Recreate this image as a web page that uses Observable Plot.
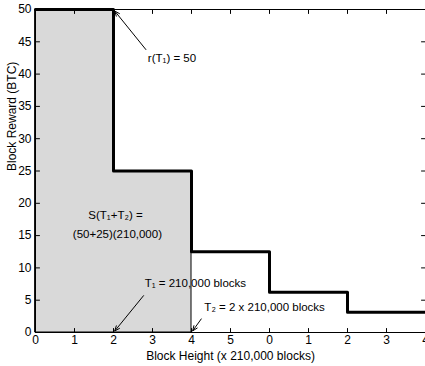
<!DOCTYPE html>
<html><head><meta charset="utf-8">
<script src="https://cdn.jsdelivr.net/npm/d3@7"></script>
<script src="https://cdn.jsdelivr.net/npm/@observablehq/plot@0.6"></script>
<style>body{margin:0;background:#fff}</style>
</head><body><div id="chart"></div>
<script>
// ---- data ----
const epochStart = [0, 2, 4, 6, 8];
const reward = [50, 25, 12.5, 6.25, 3.125];
const xEnd = 10;
const shadedEpochs = 2;
const xTickValues = [0, 1, 2, 3, 4, 5, 6, 7, 8, 9, 10];
const xTickLabels = ["0", "1", "2", "3", "4", "5", "0", "1", "2", "3", "4"];
const yTickValues = [0, 5, 10, 15, 20, 25, 30, 35, 40, 45, 50];
const xTitle = "Block Height (x 210,000 blocks)";
const yTitle = "Block Reward (BTC)";

// annotations (text, anchor position in data units, arrow target)
const notes = [
  {text: "r(T\u2081) = 50", x: 2.88, y: 42.4, ax: 2.83, ay: 43.8, tx: epochStart[1], ty: reward[0]},
  {text: "T\u2081 = 210,000 blocks", x: 2.8, y: 7.6, ax: 2.77, ay: 5.7, tx: epochStart[1], ty: 0},
  {text: "T\u2082 = 2 x 210,000 blocks", x: 4.33, y: 3.9, ax: 4.25, ay: 2.1, tx: epochStart[2], ty: 0}
];
const sumLabel = [
  {text: "S(T\u2081+T\u2082) =", x: 2.05, y: 18.1},
  {text: "(50+25)(210,000)", x: 2.1, y: 15.2}
];

// ---- derived tables ----
const steps = epochStart.map((x, i) => ({x, y: reward[i]}))
  .concat([{x: xEnd, y: reward[reward.length - 1]}]);
const shaded = epochStart.slice(0, shadedEpochs).map((x, i) => ({x, y: reward[i]}))
  .concat([{x: epochStart[shadedEpochs], y: reward[shadedEpochs - 1]}]);

const tickShape = {draw(ctx, l) { ctx.moveTo(0, 0); ctx.lineTo(0, -l); }};
const tickOpts = {length: 4, anchor: "start", shape: tickShape, stroke: "black", strokeWidth: 1};

const chart = Plot.plot({
  width: 425,
  height: 366,
  marginLeft: 35,
  marginRight: 0,
  marginTop: 9,
  marginBottom: 34,
  style: {fontFamily: "'Liberation Sans', Arial, Helvetica, sans-serif", fontSize: "12px", background: "#fff", color: "black"},
  x: {domain: [0, xEnd]},
  y: {domain: [0, 50]},
  marks: [
    Plot.areaY(shaded, {x: "x", y: "y", curve: "step-after", fill: "#d9d9d9", stroke: "black", strokeWidth: 1}),
    Plot.line(steps, {x: "x", y: "y", curve: "step-after", stroke: "black", strokeWidth: 3}),
    Plot.frame({stroke: "black", strokeWidth: 1}),
    Plot.vector(xTickValues, {x: d => d, frameAnchor: "bottom", rotate: 0, ...tickOpts}),
    Plot.vector(xTickValues, {x: d => d, frameAnchor: "top", rotate: 180, ...tickOpts}),
    Plot.vector(yTickValues, {y: d => d, frameAnchor: "left", rotate: 90, ...tickOpts}),
    Plot.vector(yTickValues, {y: d => d, frameAnchor: "right", rotate: -90, ...tickOpts}),
    Plot.axisX(xTickValues, {tickSize: 0, tickPadding: 3, fontSize: 12, tickFormat: d => xTickLabels[xTickValues.indexOf(d)], label: null}),
    Plot.axisY(yTickValues, {tickSize: 0, tickPadding: 4, fontSize: 12, label: null}),
    Plot.text([xTitle], {text: d => d, frameAnchor: "bottom", dy: 27, fontSize: 12}),
    Plot.text([yTitle], {text: d => d, frameAnchor: "left", rotate: -90, dx: -23, fontSize: 12}),
    Plot.text(notes, {x: "x", y: "y", text: "text", textAnchor: "start", fontSize: 11.5}),
    Plot.arrow(notes, {x1: "ax", y1: "ay", x2: "tx", y2: "ty", stroke: "black", strokeWidth: 1, headLength: 8, headAngle: 45, insetEnd: 2, bend: 0}),
    Plot.text(sumLabel, {x: "x", y: "y", text: "text", fontSize: 11.5})
  ]
});
document.getElementById("chart").appendChild(chart);
</script>
</body></html>
